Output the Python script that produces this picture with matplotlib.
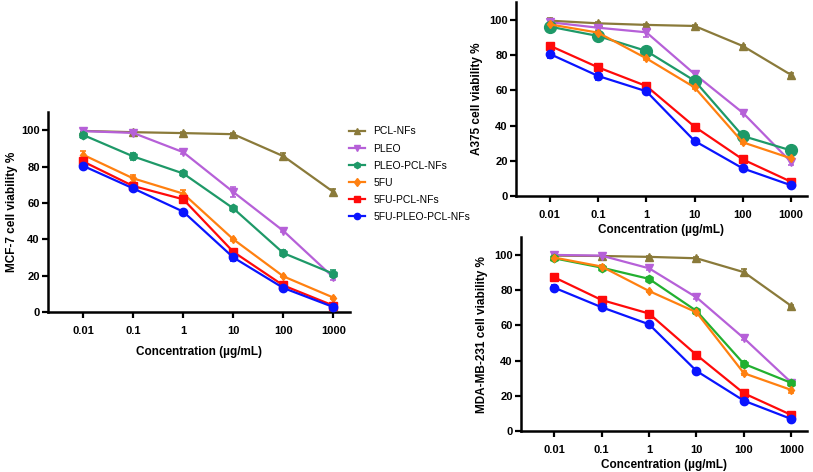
import matplotlib
matplotlib.use("Agg")
import matplotlib.pyplot as plt
from matplotlib.lines import Line2D

plt.rcParams['font.family'] = ['Liberation Sans', 'DejaVu Sans']

conc = [0.01, 0.1, 1, 10, 100, 1000]
conc_labels = ["0.01", "0.1", "1", "10", "100", "1000"]
series = ["PCL-NFs", "PLEO", "PLEO-PCL-NFs", "5FU", "5FU-PCL-NFs", "5FU-PLEO-PCL-NFs"]

# MCF-7
mcf7 = {
    "PCL-NFs": [99.6, 98.9, 98.4, 97.8, 85.7, 66.0],
    "PLEO": [99.5, 98.5, 87.9, 66.0, 44.6, 19.0],
    "PLEO-PCL-NFs": [97.4, 85.6, 76.2, 57.0, 32.4, 21.0],
    "5FU": [86.5, 73.5, 65.1, 40.0, 19.6, 7.9],
    "5FU-PCL-NFs": [82.8, 69.3, 62.0, 33.1, 14.6, 3.5],
    "5FU-PLEO-PCL-NFs": [80.4, 68.0, 55.2, 30.0, 13.2, 2.7],
}
mcf7_err = {
    "PCL-NFs": [0.8, 0.8, 0.6, 0.6, 2.0, 1.5],
    "PLEO": [1.0, 1.0, 1.2, 2.5, 0.8, 1.5],
    "PLEO-PCL-NFs": [1.8, 2.0, 1.5, 1.2, 1.5, 2.0],
    "5FU": [2.0, 2.0, 2.0, 0.8, 0.6, 0.6],
    "5FU-PCL-NFs": [1.5, 1.5, 2.0, 1.5, 1.0, 1.0],
    "5FU-PLEO-PCL-NFs": [1.0, 1.0, 1.0, 2.0, 1.0, 1.0],
}
# A375
a375 = {
    "PCL-NFs": [99.6, 98.1, 97.2, 96.6, 85.2, 68.8],
    "PLEO": [98.7, 95.6, 93.0, 69.3, 47.3, 19.3],
    "PLEO-PCL-NFs": [96.2, 90.9, 82.4, 65.5, 34.1, 25.9],
    "5FU": [97.5, 92.8, 78.2, 61.7, 30.5, 21.4],
    "5FU-PCL-NFs": [85.4, 73.1, 62.5, 39.4, 20.8, 8.1],
    "5FU-PLEO-PCL-NFs": [80.7, 68.2, 59.5, 31.3, 15.7, 6.1],
}
a375_err = {
    "PCL-NFs": [1.5, 1.0, 0.5, 0.5, 0.8, 0.8],
    "PLEO": [1.0, 1.2, 2.5, 1.5, 0.8, 1.5],
    "PLEO-PCL-NFs": [1.0, 1.0, 0.8, 1.0, 1.0, 0.8],
    "5FU": [1.0, 1.0, 0.8, 0.8, 0.8, 0.8],
    "5FU-PCL-NFs": [0.8, 1.0, 0.8, 0.8, 0.8, 0.8],
    "5FU-PLEO-PCL-NFs": [2.5, 2.5, 1.0, 0.8, 0.8, 0.8],
}
# MDA-MB-231
mda = {
    "PCL-NFs": [99.6, 99.4, 98.9, 98.1, 90.2, 71.0],
    "PLEO": [100.0, 99.6, 92.4, 75.9, 52.7, 27.5],
    "PLEO-PCL-NFs": [98.1, 92.8, 86.4, 68.2, 38.1, 27.3],
    "5FU": [98.5, 93.4, 79.5, 67.4, 32.8, 23.3],
    "5FU-PCL-NFs": [87.3, 74.4, 66.7, 43.2, 21.4, 9.1],
    "5FU-PLEO-PCL-NFs": [81.4, 70.3, 60.6, 34.1, 17.2, 6.8],
}
mda_err = {
    "PCL-NFs": [0.8, 0.8, 0.5, 0.5, 2.0, 0.8],
    "PLEO": [1.0, 1.0, 0.8, 0.8, 0.8, 1.0],
    "PLEO-PCL-NFs": [1.0, 1.0, 0.8, 1.0, 1.5, 1.0],
    "5FU": [0.8, 0.8, 0.8, 0.8, 1.0, 2.0],
    "5FU-PCL-NFs": [0.8, 0.8, 0.8, 0.8, 1.5, 1.0],
    "5FU-PLEO-PCL-NFs": [1.8, 1.5, 0.8, 1.0, 0.8, 0.8],
}

colors = {
    "PCL-NFs": "#8A7A3A",
    "PLEO": "#B660D8",
    "PLEO-PCL-NFs": "#1E9968",
    "5FU": "#FF8010",
    "5FU-PCL-NFs": "#FF0A0A",
    "5FU-PLEO-PCL-NFs": "#0A14FF",
}
markers = {
    "PCL-NFs": "^",
    "PLEO": "v",
    "PLEO-PCL-NFs": "h",
    "5FU": "d",
    "5FU-PCL-NFs": "s",
    "5FU-PLEO-PCL-NFs": "o",
}

fig = plt.figure(figsize=(8.13, 4.72), dpi=100)

axL = fig.add_axes([0.059, 0.339, 0.3715, 0.4237])
axT = fig.add_axes([0.6347, 0.5847, 0.3579, 0.4103])
axB = fig.add_axes([0.6408, 0.0869, 0.3518, 0.4103])


def draw(ax, data, err, ylabel, green=None, gmarker=None, gsize=None,
         xpad=3, ypad=4):
    for s in series:
        c = colors[s]
        m = markers[s]
        ms = 6
        if s == "PLEO-PCL-NFs":
            if green:
                c = green
            if gmarker:
                m = gmarker
            if gsize:
                ms = gsize
        if s == "5FU":
            ms = 4.5
        ax.errorbar(conc, data[s], yerr=err[s], color=c, marker=m, markersize=ms,
                    linewidth=1.6, elinewidth=1.2, capsize=2.5, capthick=1.2,
                    label=s, zorder=3)
    ax.set_xscale('log')
    ax.set_xlim(10 ** -2.7, 10 ** 3.33)
    ax.set_ylim(0, 110)
    ax.set_xticks(conc)
    ax.set_xticklabels(conc_labels)
    ax.minorticks_off()
    ax.set_yticks([0, 20, 40, 60, 80, 100])
    for sp in ['top', 'right']:
        ax.spines[sp].set_visible(False)
    for sp in ['left', 'bottom']:
        ax.spines[sp].set_linewidth(1.8)
    ax.tick_params(axis='both', direction='out', length=4, width=1.6,
                   labelsize=8, pad=2)
    ax.tick_params(axis='x', pad=6)
    for lab in ax.get_xticklabels() + ax.get_yticklabels():
        lab.set_fontweight('bold')
    ax.set_xlabel("Concentration (µg/mL)", fontsize=8.5, fontweight='bold', labelpad=xpad)
    ax.set_ylabel(ylabel, fontsize=8.5, fontweight='bold', labelpad=ypad)


draw(axL, mcf7, mcf7_err, "MCF-7 cell viability %", xpad=7, ypad=2)
draw(axT, a375, a375_err, "A375 cell viability %", gmarker="o", gsize=8.5)
draw(axB, mda, mda_err, "MDA-MB-231 cell viability %", green="#22B030", gmarker="h", gsize=6)

handles = [Line2D([0], [0], color=colors[s], marker=markers[s], markersize=4.5, linewidth=1.6)
           for s in series]
fig.legend(handles, series, loc='upper left', bbox_to_anchor=(0.418, 0.752),
           frameon=False, fontsize=7.5, handlelength=1.5, handletextpad=0.8,
           labelspacing=0.68)

fig.savefig("out.png", dpi=100)
